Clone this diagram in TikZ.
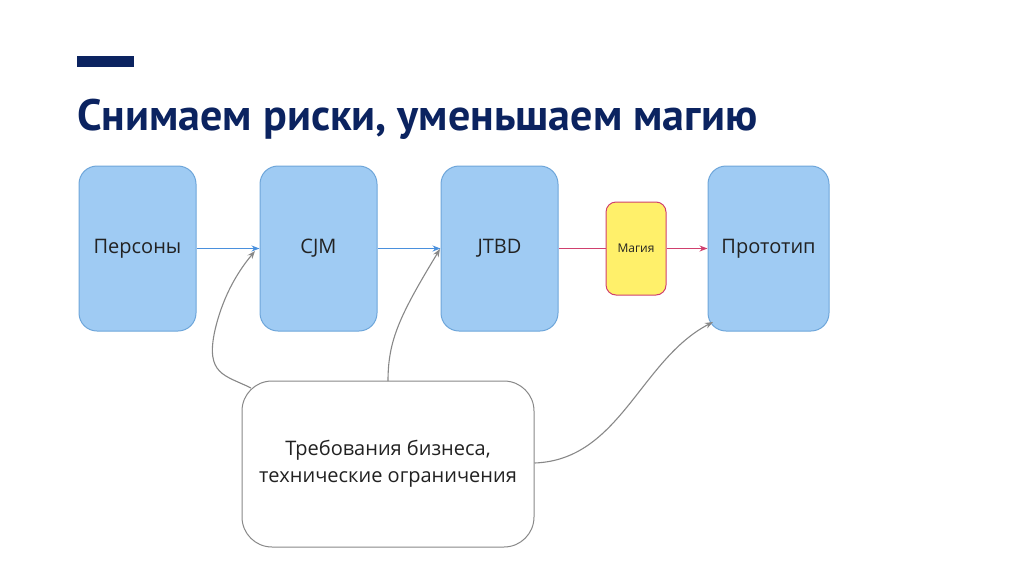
\documentclass[tikz,border=0pt]{standalone}
\usepackage{fontspec}
\setmainfont{Open Sans}
\newfontfamily\titlefont{PT Sans}
\usetikzlibrary{arrows.meta}
\definecolor{navy}{HTML}{0B2360}
\definecolor{bfill}{HTML}{9FCBF3}
\definecolor{bdraw}{HTML}{6EA6DA}
\definecolor{barrow}{HTML}{4A90DD}
\definecolor{yfill}{HTML}{FFF06A}
\definecolor{rline}{HTML}{D0406E}
\definecolor{garrow}{HTML}{888888}
\definecolor{txt}{HTML}{222222}
\tikzset{
  bluebox/.style={draw=bdraw, fill=bfill, line width=1pt, rounded corners=18pt, minimum width=117pt, minimum height=165pt, inner sep=0pt, text=txt, font=\fontsize{20}{22}\selectfont},
  magbox/.style={draw=rline, fill=yfill, line width=1pt, rounded corners=10pt, minimum width=60pt, minimum height=93pt, inner sep=0pt, text=txt, font=\fontsize{12}{14}\selectfont},
  reqbox/.style={draw=garrow, fill=white, line width=1pt, rounded corners=30pt, minimum width=292pt, minimum height=166pt, inner sep=0pt, text=txt, align=center, font=\fontsize{20}{27}\selectfont},
  bluearrow/.style={draw=barrow, line width=1.1pt, -{Stealth[length=8pt,width=6pt]}},
  redline/.style={draw=rline, line width=1.1pt},
  redarrow/.style={draw=rline, line width=1.1pt, -{Stealth[length=8pt,width=6pt]}},
  grayarrow/.style={draw=garrow, line width=1.1pt, -{Stealth[length=8pt,width=6pt]}},
}
\begin{document}
\begin{tikzpicture}[x=1pt,y=-1pt]
\useasboundingbox (0,0) rectangle (1024,576);
\fill[navy] (77,56) rectangle (134,67);
\node[anchor=base west, inner sep=0pt, text=navy, font=\titlefont\bfseries\fontsize{44}{48}\selectfont] (title) at (77,130) {Снимаем риски, уменьшаем магию};
\node[bluebox] (pers) at (137.5,248.5) {Персоны};
\node[bluebox] (cjm) at (318.5,248.5) {CJM};
\node[bluebox] (jtbd) at (499.5,248.5) {JTBD};
\node[magbox] (mag) at (636,248.5) {Магия};
\node[bluebox, minimum width=121pt] (proto) at (768.5,248.5) {Прототип};
\node[reqbox] (req) at (388,464) {Требования бизнеса,\\технические ограничения};
\coordinate (c1) at (255,251);
\coordinate (c2) at (440,249);
\coordinate (c3) at (713,322);
\draw[bluearrow] (pers.east) -- (cjm.west);
\draw[bluearrow] (cjm.east) -- (jtbd.west);
\draw[redline] (jtbd.east) -- (mag.west);
\draw[redarrow] (mag.east) -- (proto.west);
\draw[grayarrow] (251,388) .. controls (225,375) and (205,375) .. (215,330) .. controls (222,300) and (235,275) .. (c1);
\draw[grayarrow] (388,381) .. controls (388,340) and (400,315) .. (c2);
\draw[grayarrow] (req.east |- 0,463) .. controls (620,460) and (640,360) .. (c3);
\end{tikzpicture}
\end{document}
